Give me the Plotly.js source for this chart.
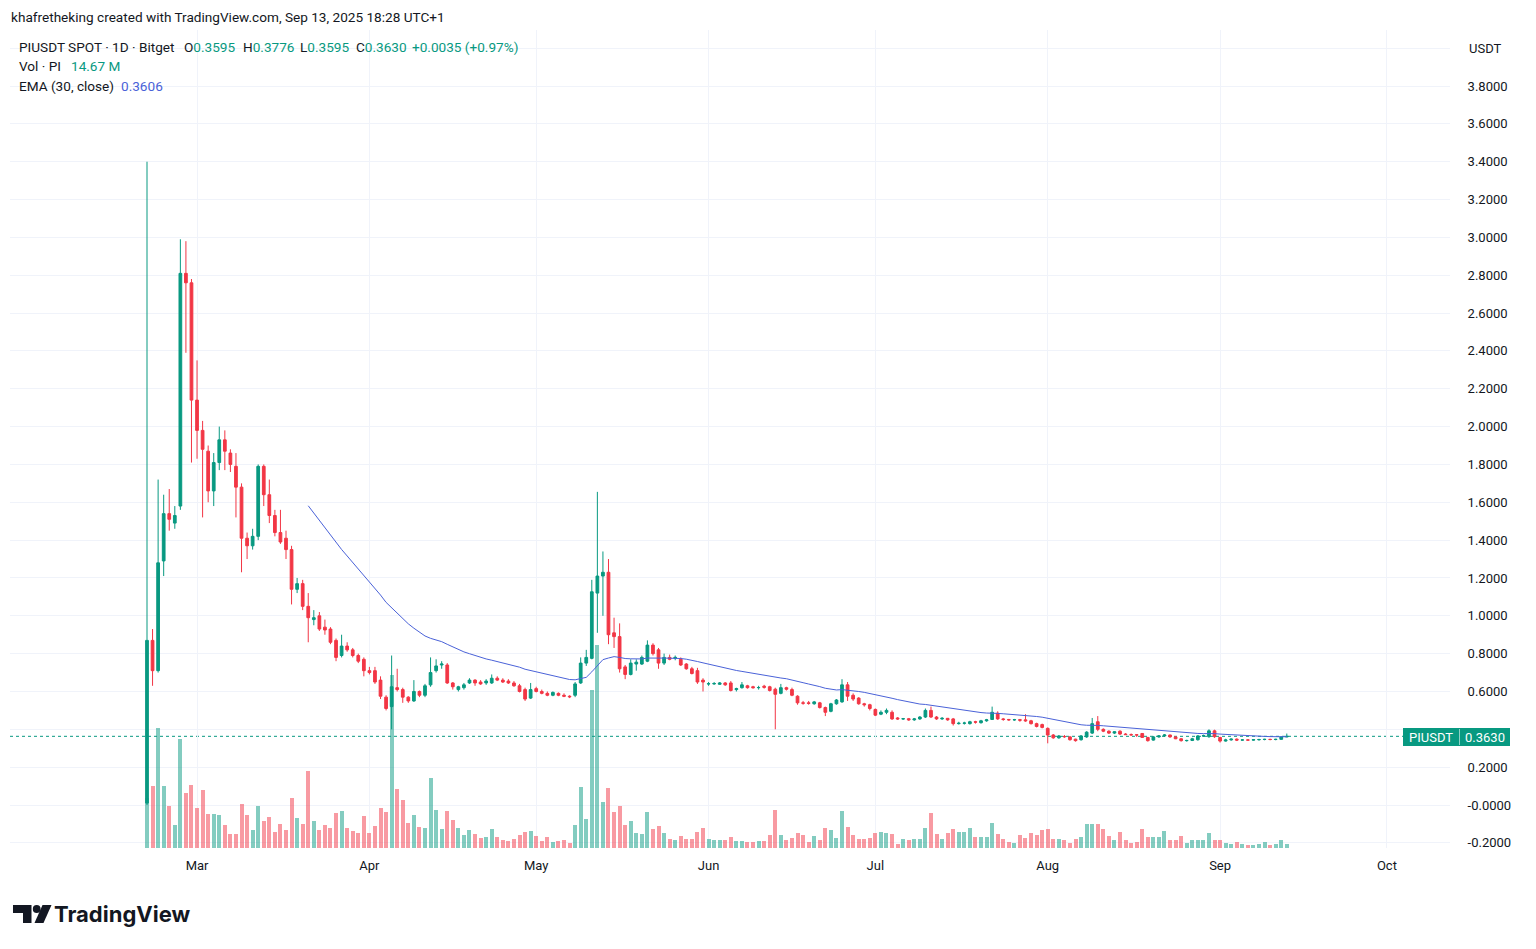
<!DOCTYPE html>
<html>
<head>
<meta charset="utf-8">
<script src="https://cdn.plot.ly/plotly-3.0.1.min.js"></script>
<style>
html,body{margin:0;padding:0;background:#fff;}
#chart{width:1536px;height:949px;}
</style>
</head>
<body>
<div id="chart"></div>
<script>
// ---------- data ----------
const firstDay = '2025-02-20';

const openPrices = [
0.01,0.87,0.71,1.29,1.54,1.49,1.58,2.81,2.76,2.14,
1.98,1.87,1.66,1.81,1.93,1.86,1.79,1.68,1.41,1.37,
1.42,1.79,1.64,1.53,1.44,1.41,1.35,1.14,1.17,1.05,
0.98,1.00,0.94,0.93,0.87,0.79,0.84,0.82,0.79,0.77,
0.71,0.71,0.66,0.57,0.52,0.62,0.61,0.57,0.55,0.60,
0.58,0.635,0.71,0.74,0.74,0.645,0.61,0.62,0.645,0.66,
0.65,0.645,0.645,0.67,0.66,0.655,0.645,0.63,0.61,0.565,
0.615,0.60,0.59,0.58,0.59,0.58,0.575,0.58,0.645,0.75,
0.775,1.12,1.21,1.23,0.91,0.89,0.73,0.69,0.745,0.745,
0.76,0.845,0.82,0.75,0.78,0.775,0.77,0.745,0.72,0.71,
0.66,0.64,0.64,0.638,0.645,0.645,0.61,0.62,0.63,0.625,
0.62,0.628,0.625,0.612,0.59,0.62,0.61,0.575,0.54,0.54,
0.535,0.54,0.515,0.495,0.535,0.545,0.635,0.58,0.565,0.535,
0.53,0.505,0.48,0.49,0.49,0.46,0.455,0.456,0.45,0.455,
0.465,0.50,0.465,0.455,0.458,0.455,0.43,0.432,0.43,0.44,
0.435,0.445,0.452,0.485,0.455,0.452,0.45,0.451,0.45,0.445,
0.43,0.425,0.405,0.37,0.355,0.362,0.36,0.348,0.345,0.36,
0.38,0.44,0.40,0.39,0.38,0.39,0.375,0.372,0.371,0.378,
0.357,0.343,0.36,0.365,0.37,0.36,0.35,0.34,0.341,0.345,
0.365,0.361,0.392,0.357,0.338,0.344,0.348,0.343,0.344,0.343,
0.345,0.346,0.347,0.346,0.347,0.3595
];

const highPrices = [
3.40,0.93,1.72,1.64,1.67,1.58,2.99,2.98,2.78,2.35,
2.03,1.90,1.86,2.00,1.98,1.88,1.86,1.70,1.44,1.46,
1.80,1.80,1.72,1.56,1.56,1.45,1.37,1.20,1.19,1.12,
1.03,1.02,0.98,0.94,0.88,0.90,0.86,0.83,0.80,0.78,
0.73,0.73,0.68,0.58,0.79,0.72,0.62,0.575,0.66,0.605,
0.64,0.78,0.77,0.76,0.75,0.65,0.63,0.645,0.67,0.665,
0.66,0.665,0.69,0.68,0.67,0.665,0.655,0.64,0.62,0.645,
0.625,0.61,0.60,0.60,0.595,0.59,0.58,0.65,0.78,0.82,
1.19,1.655,1.34,1.30,0.99,0.96,0.74,0.77,0.77,0.79,
0.87,0.855,0.83,0.80,0.795,0.79,0.78,0.75,0.73,0.725,
0.67,0.65,0.65,0.65,0.65,0.655,0.62,0.65,0.635,0.63,
0.63,0.635,0.63,0.62,0.64,0.625,0.62,0.58,0.55,0.55,
0.55,0.545,0.52,0.54,0.56,0.665,0.65,0.59,0.57,0.54,
0.535,0.51,0.50,0.51,0.50,0.465,0.46,0.46,0.46,0.47,
0.51,0.52,0.47,0.465,0.46,0.46,0.44,0.44,0.445,0.445,
0.45,0.455,0.52,0.495,0.46,0.455,0.455,0.455,0.48,0.45,
0.435,0.43,0.41,0.375,0.37,0.37,0.365,0.35,0.37,0.39,
0.46,0.47,0.405,0.395,0.39,0.395,0.38,0.378,0.375,0.38,
0.36,0.365,0.37,0.375,0.372,0.362,0.352,0.345,0.355,0.37,
0.372,0.40,0.398,0.36,0.35,0.352,0.352,0.348,0.347,0.347,
0.35,0.35,0.35,0.35,0.362,0.3776
];

const lowPrices = [
0.00,0.63,0.70,1.21,1.45,1.46,1.56,2.39,1.81,1.83,
1.52,1.60,1.58,1.77,1.77,1.76,1.52,1.23,1.30,1.35,
1.40,1.58,1.49,1.42,1.38,1.30,1.06,1.12,1.03,0.86,
0.95,0.92,0.90,0.85,0.76,0.78,0.81,0.78,0.75,0.68,
0.69,0.64,0.56,0.50,0.40,0.60,0.54,0.54,0.545,0.57,
0.57,0.625,0.70,0.72,0.64,0.61,0.60,0.61,0.64,0.63,
0.635,0.635,0.64,0.655,0.645,0.64,0.625,0.595,0.55,0.56,
0.595,0.585,0.575,0.575,0.575,0.57,0.565,0.57,0.64,0.735,
0.77,0.91,1.00,0.85,0.83,0.70,0.665,0.685,0.71,0.74,
0.755,0.79,0.72,0.74,0.765,0.765,0.735,0.715,0.69,0.64,
0.60,0.63,0.635,0.635,0.63,0.60,0.60,0.615,0.615,0.615,
0.61,0.615,0.60,0.40,0.585,0.605,0.575,0.53,0.53,0.53,
0.53,0.51,0.47,0.49,0.53,0.54,0.55,0.55,0.53,0.52,
0.50,0.47,0.475,0.48,0.45,0.45,0.45,0.445,0.445,0.45,
0.46,0.46,0.45,0.45,0.445,0.42,0.425,0.425,0.425,0.43,
0.43,0.44,0.45,0.45,0.445,0.445,0.445,0.44,0.44,0.425,
0.41,0.405,0.326,0.35,0.35,0.355,0.34,0.335,0.34,0.355,
0.375,0.39,0.385,0.375,0.375,0.37,0.37,0.365,0.36,0.355,
0.335,0.34,0.355,0.36,0.355,0.348,0.335,0.335,0.338,0.34,
0.36,0.355,0.355,0.33,0.335,0.34,0.338,0.34,0.34,0.34,
0.34,0.342,0.342,0.342,0.345,0.3595
];

const closePrices = [
0.87,0.71,1.28,1.54,1.51,1.53,2.81,2.76,2.14,1.98,
1.88,1.66,1.81,1.93,1.87,1.80,1.68,1.41,1.37,1.42,
1.79,1.64,1.53,1.44,1.39,1.35,1.14,1.17,1.05,0.99,
0.99,0.93,0.925,0.86,0.78,0.84,0.82,0.79,0.76,0.71,
0.70,0.65,0.575,0.51,0.625,0.61,0.57,0.55,0.60,0.58,
0.63,0.70,0.735,0.745,0.645,0.625,0.625,0.635,0.66,0.645,
0.64,0.655,0.67,0.66,0.65,0.645,0.63,0.60,0.56,0.61,
0.60,0.59,0.58,0.595,0.58,0.575,0.572,0.64,0.75,0.78,
1.127,1.21,1.23,0.90,0.89,0.72,0.69,0.75,0.755,0.78,
0.845,0.80,0.75,0.78,0.77,0.78,0.74,0.72,0.695,0.65,
0.65,0.641,0.642,0.645,0.635,0.605,0.615,0.635,0.62,0.62,
0.621,0.622,0.605,0.585,0.62,0.612,0.58,0.54,0.538,0.537,
0.545,0.515,0.49,0.535,0.555,0.635,0.575,0.56,0.535,0.53,
0.51,0.475,0.49,0.50,0.455,0.455,0.456,0.45,0.455,0.465,
0.50,0.465,0.455,0.458,0.45,0.43,0.432,0.433,0.44,0.438,
0.445,0.45,0.49,0.455,0.452,0.45,0.451,0.448,0.445,0.43,
0.415,0.41,0.37,0.355,0.365,0.361,0.345,0.34,0.365,0.385,
0.43,0.40,0.39,0.38,0.387,0.375,0.372,0.371,0.37,0.357,
0.34,0.36,0.365,0.37,0.36,0.35,0.34,0.341,0.35,0.365,
0.366,0.392,0.361,0.338,0.344,0.348,0.343,0.344,0.343,0.345,
0.346,0.347,0.346,0.347,0.3595,0.3630
];

// volume in millions of PI
const volumeM = [
180,223,432,223,151,83,392,198,227,144,
209,122,122,119,83,50,50,158,119,65,
151,97,112,58,86,65,180,108,86,277,
97,65,83,72,126,133,72,61,54,115,
54,79,144,130,623,212,173,90,119,76,
72,252,137,68,133,101,72,47,65,50,
36,40,68,40,29,25,32,47,58,61,
43,25,40,22,25,29,18,83,220,104,
569,731,166,216,130,151,83,97,54,50,
130,68,79,54,32,29,43,32,32,58,
72,32,29,29,29,40,25,25,22,22,
25,25,47,137,47,29,36,54,47,22,
43,29,72,65,36,133,76,47,32,32,
36,54,58,54,50,14,32,29,32,32,
72,126,50,32,54,68,58,58,72,40,
40,40,90,50,32,22,18,47,36,54,
47,65,68,32,32,29,18,32,40,86,
86,86,68,43,29,58,29,18,22,68,
40,40,40,61,29,29,43,18,29,29,
29,54,29,29,18,14,22,14,11,11,
14,22,11,14,29,14.67
];

const monthTicks  = ['2025-03-01','2025-04-01','2025-05-01','2025-06-01','2025-07-01','2025-08-01','2025-09-01','2025-10-01'];
const monthLabels = ['Mar','Apr','May','Jun','Jul','Aug','Sep','Oct'];
const priceTicks  = [-0.2,0,0.2,0.4,0.6,0.8,1.0,1.2,1.4,1.6,1.8,2.0,2.2,2.4,2.6,2.8,3.0,3.2,3.4,3.6,3.8,4.0];
// 0.4000 sits under the last-price label and 4.0 is replaced by the "USDT" caption
const priceLabels = ['-0.2000','-0.0000','0.2000','','0.6000','0.8000','1.0000','1.2000','1.4000','1.6000','1.8000','2.0000','2.2000','2.4000','2.6000','2.8000','3.0000','3.2000','3.4000','3.6000','3.8000',''];
const lastPrice = 0.3630;
const emaLength = 30;

// ---------- derived ----------
const DAY = 86400000;
const t0 = Date.parse(firstDay + 'T00:00:00Z');
const dates = closePrices.map((_, i) => new Date(t0 + i * DAY).toISOString().slice(0, 10));

// EMA(30, close), seeded with SMA like TradingView
const ema = closePrices.map(() => null);
{
  const a = 2 / (emaLength + 1);
  let s = 0;
  for (let i = 0; i < emaLength; i++) s += closePrices[i];
  ema[emaLength - 1] = s / emaLength;
  for (let i = emaLength; i < closePrices.length; i++) ema[i] = a * closePrices[i] + (1 - a) * ema[i - 1];
}

const UP = '#089981', DOWN = '#F23645';
const volColors = closePrices.map((c, i) => c >= openPrices[i] ? 'rgba(8,153,129,0.5)' : 'rgba(242,54,69,0.5)');

// plot area in pixels
const PL = 10, PR = 1450, PT = 30, PB = 848;
const px = x => (x - PL) / (PR - PL);
const py = y => (PB - y) / (PB - PT);

const FONT = 'Roboto, "Noto Sans", sans-serif';
const INK = '#131722';
const HS = 13.6;

function ann(text, x, y, o) {
  o = o || {};
  return Object.assign({
    text: text, xref: 'paper', yref: 'paper', x: px(x), y: py(y),
    xanchor: 'left', yanchor: 'middle', showarrow: false,
    font: {family: FONT, size: HS, color: INK}
  }, o);
}
const teal = s => '<span style="color:#089981">' + s + '</span>';

const annotations = [
  ann('khafretheking created with TradingView.com, Sep 13, 2025 18:28 UTC+1', 9, 17),
  ann('PIUSDT SPOT · 1D · Bitget', 17, 47),
  ann('O' + teal('0.3595'), 182, 47),
  ann('H' + teal('0.3776'), 241, 47),
  ann('L' + teal('0.3595'), 298, 47),
  ann('C' + teal('0.3630'), 354, 47),
  ann(teal('+0.0035 (+0.97%)'), 410, 47),
  ann('Vol · PI', 17, 66),
  ann(teal('14.67 M'), 69, 66),
  ann('EMA (30, close)', 17, 86),
  ann('<span style="color:#4a62d8">0.3606</span>', 119, 86),
  ann('USDT', 1467, 48, {font: {family: FONT, size: 13, color: INK}}),
  ann('PIUSDT', 1431, 737, {xanchor: 'center', font: {family: FONT, size: 13, color: '#ffffff'}}),
  ann('0.3630', 1485, 737, {xanchor: 'center', font: {family: FONT, size: 13, color: '#ffffff'}}),
  ann('TradingView', 52, 914, {font: {family: 'Inter, Roboto, sans-serif', size: 22, color: INK, weight: 700}})
];

function pathPx(points) {
  return 'M' + points.map(p => px(p[0]).toFixed(5) + ',' + py(p[1]).toFixed(5)).join(' L') + ' Z';
}

const shapes = [
  {type: 'line', xref: 'paper', yref: 'y2', x0: 0, x1: 1, y0: lastPrice, y1: lastPrice,
   line: {color: UP, width: 1, dash: 'dot'}, layer: 'below'},
  {type: 'rect', xref: 'paper', yref: 'paper', x0: px(1403), x1: px(1510), y0: py(746), y1: py(728),
   fillcolor: UP, line: {width: 0}, layer: 'above'},
  {type: 'line', xref: 'paper', yref: 'paper', x0: px(1459.5), x1: px(1459.5), y0: py(745), y1: py(729),
   line: {color: 'rgba(255,255,255,0.55)', width: 1}, layer: 'above'},
  // TradingView logo mark
  {type: 'path', xref: 'paper', yref: 'paper', layer: 'above', line: {width: 0}, fillcolor: INK,
   path: pathPx([[13,905],[31.5,905],[31.5,923],[23,923],[23,913],[13,913]])},
  {type: 'circle', xref: 'paper', yref: 'paper', layer: 'above', line: {width: 0}, fillcolor: INK,
   x0: px(32.8), x1: px(40.6), y0: py(913), y1: py(905)},
  {type: 'path', xref: 'paper', yref: 'paper', layer: 'above', line: {width: 0}, fillcolor: INK,
   path: pathPx([[42.5,905],[51.5,905],[43.5,923],[34.5,923]])}
];

const traces = [
  {type: 'bar', x: dates, y: volumeM, xaxis: 'x', yaxis: 'y',
   marker: {color: volColors, line: {width: 0}}, width: 0.72 * DAY, hoverinfo: 'skip'},
  {type: 'candlestick', x: dates, open: openPrices, high: highPrices, low: lowPrices, close: closePrices,
   xaxis: 'x', yaxis: 'y2',
   increasing: {line: {color: UP, width: 1}, fillcolor: UP},
   decreasing: {line: {color: DOWN, width: 1}, fillcolor: DOWN},
   whiskerwidth: 0, hoverinfo: 'skip'},
  {type: 'scatter', mode: 'lines', x: dates, y: ema, xaxis: 'x', yaxis: 'y2',
   line: {color: '#4a62d8', width: 1}, hoverinfo: 'skip', connectgaps: false}
];

const layout = {
  width: 1536, height: 949,
  margin: {l: PL, r: 1536 - PR, t: PT, b: 949 - PB, pad: 0},
  paper_bgcolor: '#ffffff', plot_bgcolor: '#ffffff',
  showlegend: false, dragmode: false, hovermode: false,
  bargap: 0,
  xaxis: {
    type: 'date',
    range: ['2025-01-26 08:38', '2025-10-12 08:24'],
    tickvals: monthTicks, ticktext: monthLabels,
    showgrid: true, gridcolor: '#f0f3fa', gridwidth: 1,
    zeroline: false, showline: false,
    ticks: 'outside', ticklen: 5, tickcolor: 'rgba(0,0,0,0)',
    tickfont: {family: FONT, size: 13, color: INK},
    rangeslider: {visible: false}, fixedrange: true
  },
  yaxis: {range: [0, 2944.8], visible: false, fixedrange: true, showgrid: false, zeroline: false},
  yaxis2: {
    overlaying: 'y', side: 'right', anchor: 'x',
    range: [-0.2273, 4.0962],
    tickvals: priceTicks, ticktext: priceLabels,
    showgrid: true, gridcolor: '#f0f3fa', gridwidth: 1,
    zeroline: false, showline: false,
    ticks: 'outside', ticklen: 14, tickcolor: 'rgba(0,0,0,0)',
    tickfont: {family: FONT, size: 13, color: INK},
    fixedrange: true
  },
  shapes: shapes,
  annotations: annotations
};

Plotly.newPlot('chart', traces, layout, {displayModeBar: false, staticPlot: true});
</script>
</body>
</html>
